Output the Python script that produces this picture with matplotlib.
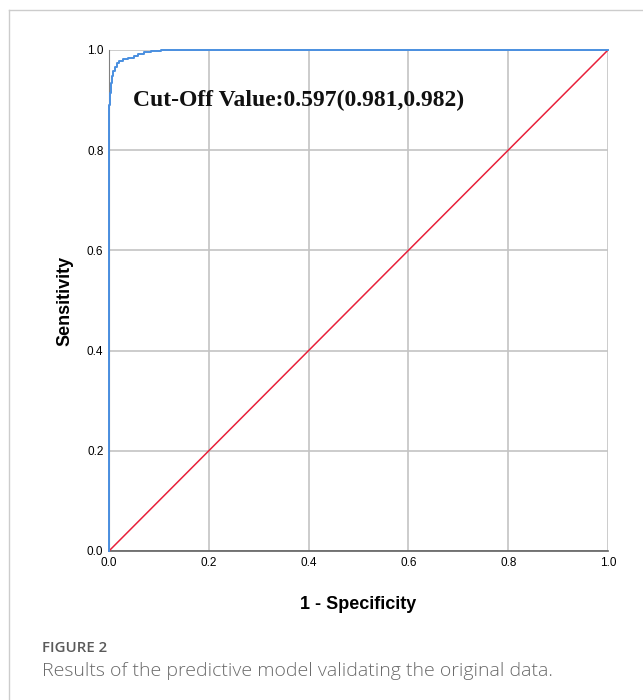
import numpy as np
import matplotlib
matplotlib.use('Agg')
import matplotlib.pyplot as plt
from matplotlib.lines import Line2D

# ROC curve points
fpr = [0, 0, 0.002, 0.002, 0.004, 0.004, 0.006, 0.006, 0.009, 0.009,
       0.012, 0.012, 0.016, 0.016, 0.02, 0.02, 0.028, 0.028, 0.038, 0.038,
       0.05, 0.05, 0.058, 0.058, 0.07, 0.07, 0.085, 0.085, 0.105, 0.105, 1.0]
tpr = [0, 0.89, 0.89, 0.915, 0.915, 0.935, 0.935, 0.948, 0.948, 0.958,
       0.958, 0.966, 0.966, 0.974, 0.974, 0.978, 0.978, 0.981, 0.981, 0.984,
       0.984, 0.988, 0.988, 0.992, 0.992, 0.995, 0.995, 0.998, 0.998, 1.0, 1.0]
ref_line = [0, 1]
ticks = [0.0, 0.2, 0.4, 0.6, 0.8, 1.0]
cutoff_text = 'Cut-Off Value:0.597(0.981,0.982)'

fig = plt.figure(figsize=(6.43, 7), dpi=100)
ax = fig.add_axes([0.1695, 0.2129, 0.7761, 0.7157])

ax.plot(ref_line, ref_line, color='#e8203a', linewidth=1.1, zorder=3)
ax.plot(fpr, tpr, color='#4a8fe0', linewidth=1.4, zorder=4, clip_on=False)

ax.set_xlim(0, 1)
ax.set_ylim(0, 1)
ax.set_xticks(ticks)
ax.set_yticks(ticks)
ax.set_xticklabels([f'{t:.1f}' for t in ticks], fontfamily='Liberation Sans', fontsize=8.5)
ax.set_yticklabels([f'{t:.1f}' for t in ticks], fontfamily='Liberation Sans', fontsize=8.5)
ax.tick_params(length=0, pad=4)
ax.grid(True, color='#c4c4c4', linewidth=1.2)
ax.set_axisbelow(True)
for s in ['top', 'right']:
    ax.spines[s].set_visible(False)
ax.spines['left'].set_color('#808080')
ax.spines['bottom'].set_color('#606060')
ax.spines['bottom'].set_linewidth(1.2)

ax.set_xlabel('1 - Specificity', fontfamily='Liberation Sans', fontsize=13,
              fontweight='bold', labelpad=20)
ax.set_ylabel('Sensitivity', fontfamily='Liberation Sans', fontsize=13,
              fontweight='bold', labelpad=10)

ax.text(0.048, 0.9, cutoff_text, fontfamily='Liberation Serif', fontsize=17,
        fontweight='bold', va='center', ha='left', color='#111111')

# panel frame
fig.add_artist(Line2D([9 / 643, 1], [1 - 10 / 700, 1 - 10 / 700], color='#cccccc', linewidth=1))
fig.add_artist(Line2D([9 / 643, 9 / 643], [0, 1 - 10 / 700], color='#cccccc', linewidth=1))

fig.text(42 / 643, 1 - 648 / 700, 'FIGURE 2', fontfamily='Open Sans', fontsize=10.8,
         color='#5a5a5a', fontweight='semibold', va='center')
fig.text(42 / 643, 1 - 671 / 700, 'Results of the predictive model validating the original data.',
         fontfamily='Open Sans', fontsize=14, color='#6a6a6a', fontweight='light', va='center')

plt.savefig('out.png', dpi=100)
